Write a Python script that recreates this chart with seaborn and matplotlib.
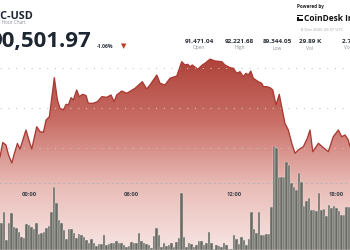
import numpy as np
import pandas as pd
import matplotlib
matplotlib.use("Agg")
import matplotlib.pyplot as plt
from matplotlib.colors import LinearSegmentedColormap
from matplotlib.patches import Rectangle
import seaborn as sns

# ---------------- data ----------------
# price line: hours relative to 00:00 (8 Dec 2025), BTC-USD price
price_hours = [-1.70, -1.54, -1.35, -1.20, -1.01, -0.85, -0.68, -0.53, -0.18, 0.02,
               0.16, 0.45, 0.64, 0.84, 1.00, 1.19, 1.48, 1.66, 1.81, 2.01,
               2.17, 2.30, 2.46, 2.59, 2.79, 2.94, 3.14, 3.34, 3.47, 3.76,
               4.00, 4.26, 4.55, 4.80, 4.98, 5.13, 5.43, 5.72, 6.21, 6.63,
               6.89, 7.08, 7.48, 7.67, 7.96, 8.25, 8.65, 8.94, 9.13, 9.29,
               9.42, 9.56, 9.88, 10.14, 10.30, 10.60, 10.89, 11.28, 11.47, 11.77,
               11.96, 12.16, 12.35, 12.54, 12.70, 12.84, 12.98, 13.13, 13.42, 13.62,
               13.72, 13.91, 14.11, 14.27, 14.46, 14.65, 14.79, 14.98, 15.18, 15.38,
               15.57, 15.76, 16.06, 16.29, 16.45, 16.61, 16.94, 17.23, 17.52, 17.81,
               18.11, 18.30, 18.50, 18.69, 18.79]
price_values = [89775, 90138, 90075, 89825, 89625, 89875, 90113, 89975, 90450, 90158,
                89975, 90533, 90408, 90393, 90700, 90783, 91758, 91200, 90993, 90950,
                91093, 91075, 91258, 91200, 91450, 91283, 91343, 91308, 91118, 91118,
                91158, 91283, 91268, 91325, 91158, 91325, 91425, 91368, 91493, 91658,
                91475, 91575, 91825, 91618, 91575, 91743, 91800, 92158, 92075, 92093,
                92033, 92075, 91968, 92075, 92118, 92222, 92175, 92158, 92075, 92008,
                91993, 91868, 91908, 91783, 91868, 91825, 91925, 91743, 91658, 91618,
                91533, 91533, 91508, 91450, 91075, 91343, 91033, 90618, 90450, 90118,
                89868, 89950, 90033, 90243, 90450, 89908, 90118, 90008, 89908, 90283,
                90450, 90283, 90325, 90200, 90033]

# volume bars (BTC) in time order, evenly spaced across the visible window
volumes = [214, 304, 80, 216, 294, 184, 174, 144, 102, 94,
           206, 200, 186, 166, 218, 128, 134, 146, 174, 192,
           302, 506, 378, 240, 216, 160, 88, 166, 168, 134,
           94, 128,
           120, 102, 80, 58, 86, 54, 34, 48, 48, 120,
           40, 48, 54, 54, 74, 58, 54, 42, 26, 32,
           66, 58, 58, 134, 74, 58, 48, 40, 14, 112,
           174, 120, 22, 54, 32, 40, 54, 26,
           66, 94, 458, 102, 26, 54, 48, 26, 40, 74,
           74, 40, 58, 146, 54, 6, 40, 34, 26, 58,
           40, 6, 6, 120, 86, 48, 102, 80, 40, 86,
           306, 166, 134, 306, 120, 120, 128, 128, 342, 832,
           816, 582, 582, 586, 706, 680, 534, 506, 480, 618,
           546, 352, 394, 414, 320, 320, 314, 454, 320, 326,
           272, 360, 334, 352, 334, 314, 280, 280, 342, 342]

grid_prices = [90000, 91000, 92000]
tick_hours = [0, 6, 12, 18]
tick_labels = ["00:00", "06:00", "12:00", "18:00"]

stat_values = ["91,471.04", "92,221.68", "89,344.05", "29.89 K"]
stat_labels = ["Open", "High", "Low", "Vol"]

# ---------------- styling ----------------
sns.set_style("white")
FONT = ["Open Sans", "DejaVu Sans"]
plt.rcParams["font.family"] = FONT

LINE = "#a83b33"
BAR = "#686b63"
DARK = "#1d2631"
GRAY = "#8b9097"

W, H = 350, 250
fig = plt.figure(figsize=(3.5, 2.5), dpi=100)
fig.patch.set_facecolor("white")

X0, X1 = -1.70, 18.79
Y0, Y1 = 87450, 93700

ax = fig.add_axes([0, 0, 1, 1])
ax.set_facecolor("white")

# gradient fill under the line
poly = ax.fill_between(price_hours, price_values, Y0, color="none", linewidth=0)
clip = poly.get_paths()[0]
cmap = LinearSegmentedColormap.from_list("g", ["#f7e5e3", "#e9bcb7", "#c96e66", "#ad4038"])
grad = np.linspace(0, 1, 256).reshape(-1, 1)
im = ax.imshow(grad, extent=[X0, X1, Y0, 92300], origin="lower", aspect="auto",
               cmap=cmap, zorder=0, interpolation="bicubic")
im.set_clip_path(clip, transform=ax.transData)

sns.lineplot(x=price_hours, y=price_values, ax=ax, color=LINE, linewidth=0.95,
             zorder=3, estimator=None, sort=False)

ax.set_xlim(X0, X1)
ax.set_ylim(Y0, Y1)
ax.set_yticks(grid_prices)
ax.set_yticklabels([])
ax.tick_params(axis="y", length=0)
ax.grid(axis="y", color="#c6c6c6", linestyle=(0, (1, 6)), linewidth=0.8)
ax.grid(axis="x", visible=False)
ax.set_axisbelow(False)
for s in ["left", "right", "top"]:
    ax.spines[s].set_visible(False)
ax.spines["bottom"].set_position(("axes", 1 - 182.5 / H))
ax.spines["bottom"].set_linestyle((0, (1, 4)))
ax.spines["bottom"].set_color("#b4b4b4")
ax.spines["bottom"].set_linewidth(0.7)
ax.set_xticks(tick_hours)
ax.set_xticklabels(tick_labels, fontsize=4.2, fontweight="bold", color="#3b424c")
ax.tick_params(axis="x", direction="out", length=2.4, width=0.5, color="#a0a0a0", pad=4.5)
ax.set_xlabel("")
ax.set_ylabel("")

# volume bars (one slot per bar, slots fill the window)
vol_df = pd.DataFrame({"slot": np.arange(len(volumes)), "vol": volumes})
axv = fig.add_axes([0, 0, 1, 1])
axv.patch.set_alpha(0)
sns.barplot(data=vol_df, x="slot", y="vol", color=BAR, saturation=1,
            width=1.0, errorbar=None, ax=axv, linewidth=0.3, edgecolor="#eadedc")
axv.set_xlim(-0.5, len(volumes) - 0.5)
axv.set_ylim(0, 2000)
axv.axis("off")

# ---------------- header texts ----------------
def fx(x):
    return x / W

def fy(y):
    return 1 - y / H

fig.text(fx(33), fy(19.2), "BTC-USD", ha="right", va="baseline", fontsize=7.8,
         fontweight="bold", color=DARK)
fig.text(fx(26), fy(24.4), "24 Hour Chart", ha="right", va="baseline", fontsize=3.3,
         color=GRAY)
fig.text(fx(90.5), fy(47), "90,501.97", ha="right", va="baseline", fontsize=16,
         fontweight="bold", color=DARK)
fig.text(fx(97), fy(48), "-1.06%", ha="left", va="baseline", fontsize=3.7,
         fontweight="bold", color="#2b3440")
fig.text(fx(123.7), fy(46.5), "\u25BC", ha="center", va="center", fontsize=5.0,
         color="#c0392b", family=["DejaVu Sans"])

fig.text(fx(297), fy(8.3), "Powered by", ha="left", va="baseline", fontsize=3.3,
         fontweight="bold", color="#222222")
# CoinDesk icon
for (cx, cy) in [(297, 14.5), (299.2, 14.5), (301.4, 14.5), (297, 16.7), (297, 18.9),
                 (299.2, 18.9), (301.4, 18.9)]:
    fig.add_artist(Rectangle((fx(cx), fy(cy + 1.8)), 1.8 / W, 1.8 / H,
                             transform=fig.transFigure, color="#111111", lw=0))
fig.text(fx(303.5), fy(21), "CoinDesk Indices", ha="left", va="baseline", fontsize=6.0,
         fontweight="bold", color="#111111")
fig.text(fx(301), fy(31), "8 Dec 2025 20:37 UTC", ha="left", va="baseline", fontsize=3.0,
         color="#9aa0a6")

stat_x = [199, 239.3, 277.3, 310]
for x, v, l in zip(stat_x, stat_values, stat_labels):
    fig.text(fx(x), fy(42.7), v, ha="center", va="baseline", fontsize=4.6,
             fontweight="bold", color="#2a2f36")
    fig.text(fx(x), fy(49.5), l, ha="center", va="baseline", fontsize=3.5, color=GRAY)
fig.text(fx(342), fy(42.7), "2.72 B", ha="left", va="baseline", fontsize=4.6,
         fontweight="bold", color="#2a2f36")
fig.text(fx(344), fy(49.5), "Vol (USD)", ha="left", va="baseline", fontsize=3.5, color=GRAY)

fig.savefig("out.png", dpi=100)
